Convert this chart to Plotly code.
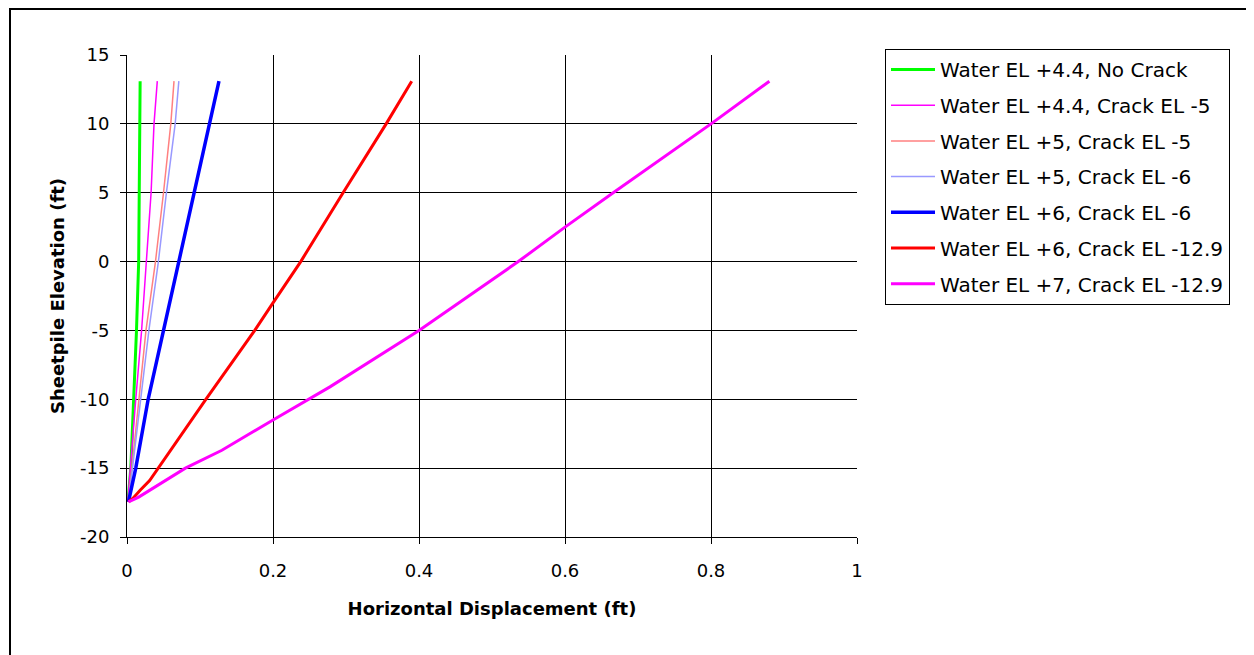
import plotly.graph_objects as go

# ---- data ----
series_names = [
    "Water EL +4.4, No Crack",
    "Water EL +4.4, Crack EL -5",
    "Water EL +5, Crack EL -5",
    "Water EL +5, Crack EL -6",
    "Water EL +6, Crack EL -6",
    "Water EL +6, Crack EL -12.9",
    "Water EL +7, Crack EL -12.9",
]

elev_std = [13.1, 10, 5, 0, -5, -10, -15, -17.45]

disp_w44_nocrack = [0.018, 0.0175, 0.0168, 0.016, 0.013, 0.0096, 0.0052, 0.0012]
disp_w44_crack5 = [0.0415, 0.037, 0.033, 0.027, 0.020, 0.012, 0.005, 0.001]
disp_w5_crack5 = [0.0644, 0.060, 0.050, 0.039, 0.026, 0.016, 0.006, 0.002]
disp_w5_crack6 = [0.071, 0.066, 0.054, 0.043, 0.030, 0.019, 0.008, 0.002]

elev_w6_crack6 = [13.1, 10, 5, 0, -5, -10, -15, -16.5, -17.45]
disp_w6_crack6 = [0.126, 0.113, 0.093, 0.072, 0.050, 0.029, 0.012, 0.006, 0.002]

elev_w6_crack129 = [13.1, 10, 5, 0, -3, -5, -10, -15, -15.9, -16.6, -17.2, -17.45]
disp_w6_crack129 = [0.390, 0.355, 0.296, 0.238, 0.200, 0.175, 0.108, 0.043, 0.031, 0.018, 0.008, 0.002]

elev_w7_crack129 = [13.1, 10.7, 10, 5, 2.5, 0, -5, -9.1, -10, -11.5, -12.5, -13.7, -15, -16.1, -16.6, -17.1, -17.45]
disp_w7_crack129 = [0.880, 0.817, 0.800, 0.666, 0.600, 0.536, 0.400, 0.278, 0.248, 0.200, 0.168, 0.130, 0.080, 0.047, 0.032, 0.016, 0.002]

x_ticks = [0, 0.2, 0.4, 0.6, 0.8, 1]
x_tick_labels = ["0", "0.2", "0.4", "0.6", "0.8", "1"]
y_ticks = [-20, -15, -10, -5, 0, 5, 10, 15]
y_tick_labels = ["-20", "-15", "-10", "-5", "0", "5", "10", "15"]

# ---- styling ----
series_x = [disp_w44_nocrack, disp_w44_crack5, disp_w5_crack5, disp_w5_crack6,
            disp_w6_crack6, disp_w6_crack129, disp_w7_crack129]
series_y = [elev_std, elev_std, elev_std, elev_std,
            elev_w6_crack6, elev_w6_crack129, elev_w7_crack129]
colors = ["#00FF00", "#FF00FF", "#FF8080", "#9999FF", "#0000FF", "#FF0000", "#FF00FF"]
widths = [3, 1.5, 1.5, 1.5, 3.5, 3, 3]

FONT = "DejaVu Sans, Arial, sans-serif"

fig = go.Figure()
for i, (name, xs, ys) in enumerate(zip(series_names, series_x, series_y)):
    fig.add_trace(go.Scatter(
        x=xs, y=ys, mode="lines", name=name,
        legendgroup=f"g{i}",
        line=dict(color=colors[i], width=widths[i]),
    ))

# the page adds an 8px body margin, so the figure is 8px smaller
OFF = 8
W, H = 1254 - OFF, 655 - OFF
L, T = 127 - OFF, 55 - OFF
pw, ph = 730, 482
R, B = W - L - pw, H - T - ph
bottom = T + ph

fig.update_layout(
    width=W, height=H,
    margin=dict(l=L, r=R, t=T, b=B, autoexpand=False),
    paper_bgcolor="white", plot_bgcolor="white",
    font=dict(family=FONT, size=18, color="black"),
    showlegend=True,
    legend=dict(
        x=(885 - OFF - L) / pw, y=(bottom - (49 - OFF)) / ph,
        xanchor="left", yanchor="top",
        bgcolor="white", bordercolor="black", borderwidth=1,
        font=dict(family=FONT, size=20, color="black"),
        tracegroupgap=6.7, itemwidth=44,
    ),
    xaxis=dict(
        range=[0, 1], tickvals=x_ticks, ticktext=x_tick_labels,
        showgrid=True, gridcolor="black", gridwidth=1,
        showline=True, linecolor="black", linewidth=1,
        ticks="outside", ticklen=6, tickcolor="black",
        zeroline=False, ticklabelstandoff=11,
        title=dict(text="<b>Horizontal Displacement (ft)</b>",
                   font=dict(family=FONT, size=18), standoff=22),
    ),
    yaxis=dict(
        range=[-20, 15], tickvals=y_ticks, ticktext=y_tick_labels,
        showgrid=True, gridcolor="black", gridwidth=1,
        showline=True, linecolor="black", linewidth=1,
        ticks="outside", ticklen=6, tickcolor="black",
        zeroline=False, ticklabelstandoff=7,
        title=dict(text="<b>Sheetpile Elevation (ft)</b>",
                   font=dict(family=FONT, size=18), standoff=10),
    ),
)

# outer chart-area frame (extends past right and bottom of the picture)
fig.add_shape(type="rect", xref="paper", yref="paper",
              x0=(10 - OFF - L) / pw, x1=(W + 20 - L) / pw,
              y0=-(20 + B) / ph, y1=(bottom - 1) / ph,
              line=dict(color="black", width=2), fillcolor="rgba(0,0,0,0)",
              layer="below")

fig.write_html("out.html")
